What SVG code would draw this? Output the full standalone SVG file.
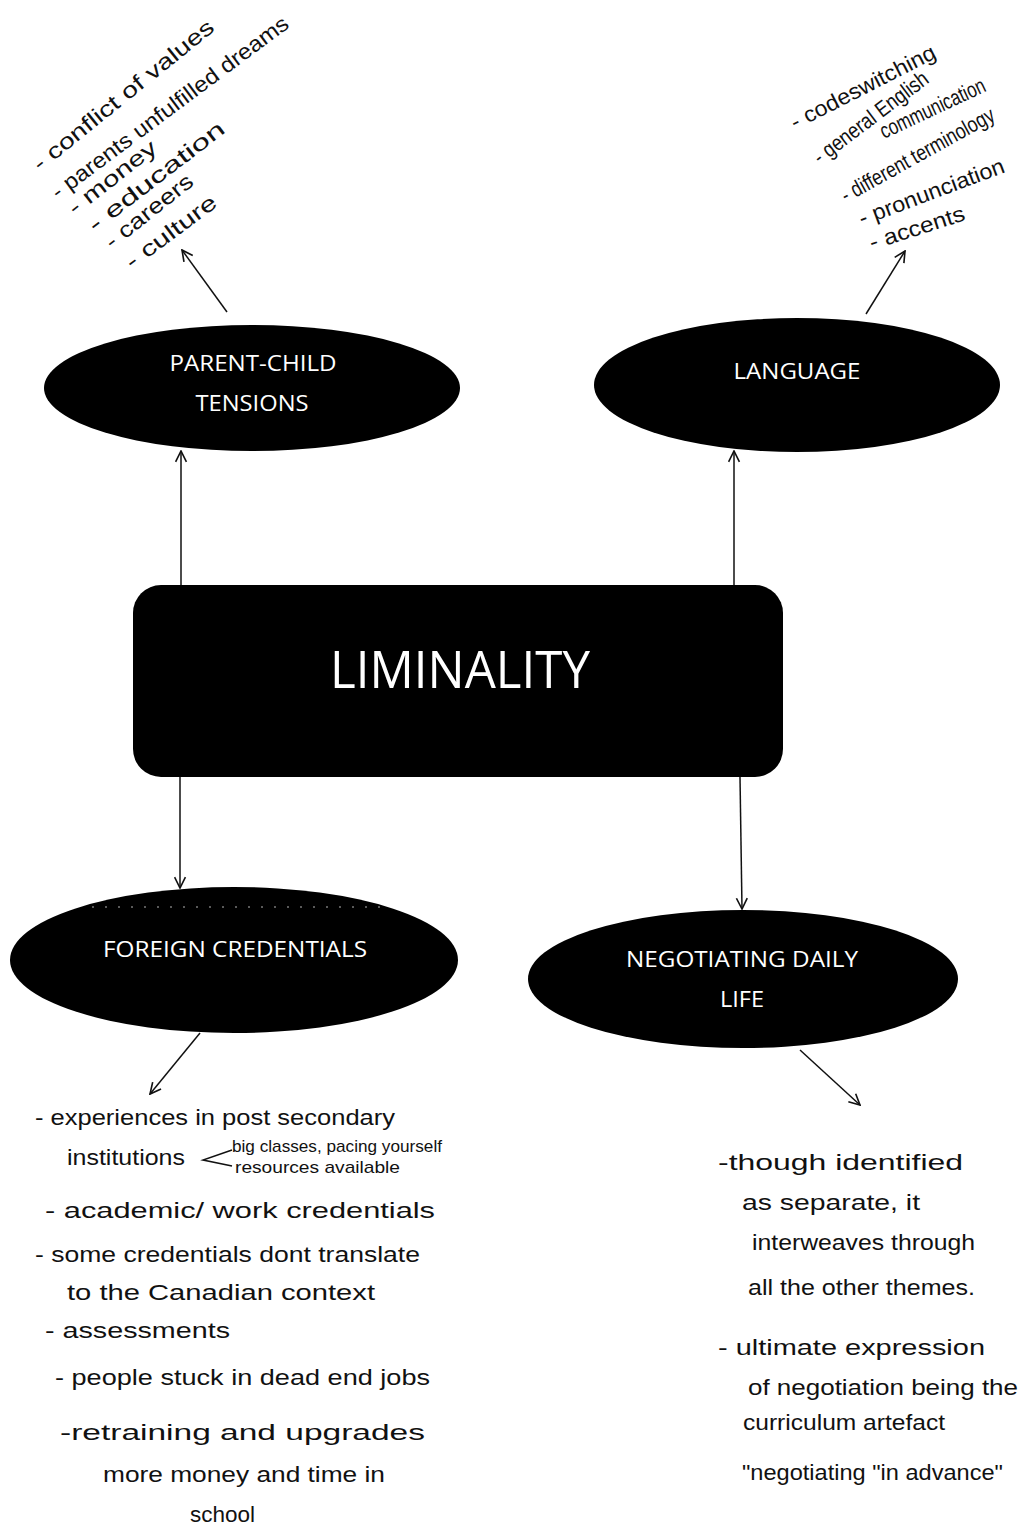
<svg xmlns="http://www.w3.org/2000/svg" width="1027" height="1533" viewBox="0 0 1027 1533">
<style>
.node{fill:#000}
.lbl{fill:#fff;font-family:"Open Sans","Noto Sans",sans-serif;font-size:21px;text-anchor:middle}
.big{fill:#fff;font-family:"Open Sans","Noto Sans",sans-serif;font-size:52px;text-anchor:middle}
.hw{fill:#111;font-family:"Liberation Sans","DejaVu Sans",sans-serif;font-size:22px}
.hs{fill:#111;font-family:"Liberation Sans","DejaVu Sans",sans-serif;font-size:17px}
.con{stroke:#111;stroke-width:1.5;fill:none;marker-end:url(#arr)}
</style>
<defs>
<marker id="arr" viewBox="0 0 12 12" refX="11" refY="6" markerWidth="13" markerHeight="13" markerUnits="userSpaceOnUse" orient="auto">
<path d="M1,1 L11,6 L1,11" fill="none" stroke="#111" stroke-width="1.5"/>
</marker>
</defs>
<rect width="1027" height="1533" fill="#fff"/>

<g id="connectors">
<line class="con" x1="181" y1="585" x2="181" y2="451"/>
<line class="con" x1="734" y1="585" x2="734" y2="451"/>
<line class="con" x1="180" y1="777" x2="180" y2="888"/>
<line class="con" x1="740" y1="777" x2="742" y2="909"/>
<line class="con" x1="227" y1="312" x2="182" y2="250"/>
<line class="con" x1="866" y1="314" x2="905" y2="251"/>
<line class="con" x1="200" y1="1033" x2="150" y2="1094"/>
<line class="con" x1="800" y1="1050" x2="860" y2="1105"/>
</g>

<g id="node-parent-child">
<ellipse class="node" cx="252" cy="388" rx="208" ry="63"/>
<text class="lbl" x="253" y="371" textLength="167" lengthAdjust="spacingAndGlyphs">PARENT-CHILD</text>
<text class="lbl" x="252" y="411" textLength="113" lengthAdjust="spacingAndGlyphs">TENSIONS</text>
</g>

<g id="node-language">
<ellipse class="node" cx="797" cy="385" rx="203" ry="67"/>
<text class="lbl" x="797" y="379" textLength="127" lengthAdjust="spacingAndGlyphs">LANGUAGE</text>
</g>

<g id="node-liminality">
<rect class="node" x="133" y="585" width="650" height="192" rx="28"/>
<text class="big" x="460" y="688" textLength="260" lengthAdjust="spacingAndGlyphs">LIMINALITY</text>
</g>

<g id="node-foreign-credentials">
<ellipse class="node" cx="234" cy="960" rx="224" ry="73"/>
<line x1="92" y1="907" x2="383" y2="907" stroke="#fff" stroke-width="1" stroke-dasharray="2 11" opacity="0.7"/>
<text class="lbl" x="235" y="957" textLength="264" lengthAdjust="spacingAndGlyphs">FOREIGN CREDENTIALS</text>
</g>

<g id="node-negotiating">
<ellipse class="node" cx="743" cy="979" rx="215" ry="69"/>
<text class="lbl" x="742" y="967" textLength="232" lengthAdjust="spacingAndGlyphs">NEGOTIATING DAILY</text>
<text class="lbl" x="742" y="1007" textLength="44" lengthAdjust="spacingAndGlyphs">LIFE</text>
</g>

<g id="notes-parent-child">
<text class="hw" transform="translate(40,172) rotate(-39)" textLength="226" lengthAdjust="spacingAndGlyphs">- conflict of values</text>
<text class="hw" transform="translate(58,200) rotate(-36.7)" textLength="290" lengthAdjust="spacingAndGlyphs">- parents unfulfilled dreams</text>
<text class="hw" transform="translate(75,216) rotate(-38)" textLength="106" lengthAdjust="spacingAndGlyphs">- money</text>
<text class="hw" transform="translate(95,233) rotate(-37.6)" textLength="166" lengthAdjust="spacingAndGlyphs">- education</text>
<text class="hw" transform="translate(112,250) rotate(-38.5)" textLength="106" lengthAdjust="spacingAndGlyphs">- careers</text>
<text class="hw" transform="translate(132,270) rotate(-36.7)" textLength="108" lengthAdjust="spacingAndGlyphs">- culture</text>
</g>

<g id="notes-language">
<text class="hw" transform="translate(795,130) rotate(-27)" textLength="160" lengthAdjust="spacingAndGlyphs">- codeswitching</text>
<text class="hw" font-size="20" transform="translate(820,165) rotate(-37)" textLength="138" lengthAdjust="spacingAndGlyphs">- general English</text>
<text class="hw" font-size="18" transform="translate(884,139) rotate(-25)" textLength="114" lengthAdjust="spacingAndGlyphs">communication</text>
<text class="hw" font-size="17" transform="translate(846,203) rotate(-29)" textLength="172" lengthAdjust="spacingAndGlyphs">- different terminology</text>
<text class="hw" transform="translate(862,226) rotate(-20.6)" textLength="154" lengthAdjust="spacingAndGlyphs">- pronunciation</text>
<text class="hw" transform="translate(872,250) rotate(-17.7)" textLength="99" lengthAdjust="spacingAndGlyphs">- accents</text>
</g>

<g id="notes-foreign-credentials">
<text class="hw" x="35" y="1125" textLength="360" lengthAdjust="spacingAndGlyphs">-  experiences in post secondary</text>
<text class="hw" x="67" y="1165" textLength="118" lengthAdjust="spacingAndGlyphs">institutions</text>
<path d="M232,1150 L203,1160 L232,1166" fill="none" stroke="#111" stroke-width="1.5"/>
<text class="hs" x="232" y="1152" textLength="210" lengthAdjust="spacingAndGlyphs">big classes, pacing yourself</text>
<text class="hs" x="235" y="1173" textLength="165" lengthAdjust="spacingAndGlyphs">resources available</text>
<text class="hw" x="45" y="1218" textLength="390" lengthAdjust="spacingAndGlyphs">-  academic/ work credentials</text>
<text class="hw" x="35" y="1262" textLength="385" lengthAdjust="spacingAndGlyphs">-  some credentials dont translate</text>
<text class="hw" x="67" y="1300" textLength="308" lengthAdjust="spacingAndGlyphs">to the Canadian context</text>
<text class="hw" x="45" y="1338" textLength="185" lengthAdjust="spacingAndGlyphs">- assessments</text>
<text class="hw" x="55" y="1385" textLength="375" lengthAdjust="spacingAndGlyphs">-  people stuck in dead end jobs</text>
<text class="hw" x="60" y="1440" textLength="365" lengthAdjust="spacingAndGlyphs">-retraining and upgrades</text>
<text class="hw" x="103" y="1482" textLength="282" lengthAdjust="spacingAndGlyphs">more money and time in</text>
<text class="hw" x="190" y="1522" textLength="65" lengthAdjust="spacingAndGlyphs">school</text>
</g>

<g id="notes-negotiating">
<text class="hw" x="718" y="1170" textLength="245" lengthAdjust="spacingAndGlyphs">-though identified</text>
<text class="hw" x="742" y="1210" textLength="178" lengthAdjust="spacingAndGlyphs">as separate, it</text>
<text class="hw" x="752" y="1250" textLength="223" lengthAdjust="spacingAndGlyphs">interweaves through</text>
<text class="hw" x="748" y="1295" textLength="227" lengthAdjust="spacingAndGlyphs">all the other themes.</text>
<text class="hw" x="718" y="1355" textLength="267" lengthAdjust="spacingAndGlyphs">-  ultimate expression</text>
<text class="hw" x="748" y="1395" textLength="270" lengthAdjust="spacingAndGlyphs">of negotiation being the</text>
<text class="hw" x="743" y="1430" textLength="202" lengthAdjust="spacingAndGlyphs">curriculum artefact</text>
<text class="hw" x="742" y="1480" textLength="261" lengthAdjust="spacingAndGlyphs">"negotiating "in advance"</text>
</g>
</svg>
